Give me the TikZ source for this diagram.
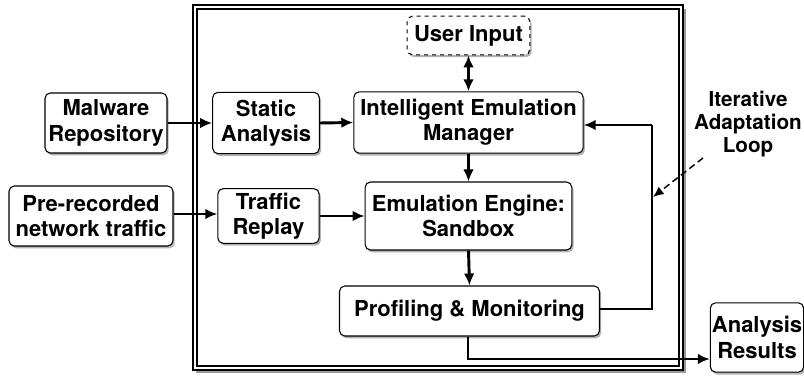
\documentclass[tikz,border=0pt]{standalone}
\usepackage{fontspec}
\setmainfont{TeX Gyre Heros}
\usetikzlibrary{arrows.meta,shadows}
\begin{document}
\begin{tikzpicture}[x=0.75pt,y=-0.75pt,
  box/.style={draw=black,line width=0.8pt,rounded corners=4pt,fill=white,
    align=center,inner sep=0pt,font=\fontsize{16.5}{19}\selectfont\bfseries,
    drop shadow={shadow xshift=1.3pt,shadow yshift=-1.8pt,fill=black!50,opacity=0.6}},
  conn/.style={line width=2.2pt,-{Latex[length=9pt,width=8pt]}},
  lbl/.style={align=center,font=\fontsize{15.5}{17}\selectfont\bfseries}
]
\useasboundingbox (0,0) rectangle (804,377);
% outer frame
\fill[black!40] (196,9) rectangle (686,373);
\draw[fill=white,line width=1.1pt] (193,5) rectangle (683,370);
\draw[line width=1.1pt] (197,9) rectangle (679,366);
% nodes
\node[box,dashed,minimum width=92pt,minimum height=29pt] (user) at (468.5,35.5) {User Input};
\node[box,minimum width=80pt,minimum height=46pt] (static) at (266,123) {Static\\Analysis};
\node[box,minimum width=172pt,minimum height=46pt] (iem) at (468.5,122.5) {Intelligent Emulation\\Manager};
\node[box,minimum width=91.5pt,minimum height=45pt] (malware) at (106,123) {Malware\\Repository};
\node[box,minimum width=123pt,minimum height=45pt] (prerec) at (91,216) {Pre-recorded\\network traffic};
\node[box,minimum width=76pt,minimum height=41pt] (replay) at (268.5,216) {Traffic\\Replay};
\node[box,minimum width=155pt,minimum height=51pt] (sandbox) at (468.5,216) {Emulation Engine:\\Sandbox};
\node[box,minimum width=195pt,minimum height=37.5pt] (prof) at (469.5,311) {Profiling \& Monitoring};
\node[box,minimum width=70pt,minimum height=52pt] (results) at (757,337.5) {Analysis\\Results};
\node[lbl] (loop) at (748,124) {Iterative\\Adaptation\\Loop};
% coordinates
\coordinate (loopR) at (652,309);
\coordinate (loopT) at (652,125);
\coordinate (down) at (468,359);
\coordinate (dashS) at (703,158);
\coordinate (dashE) at (653,197);
% connectors
\draw[conn] (malware.east) -- (static.west);
\draw[conn] (static.east) -- (iem.west);
\draw[conn] (prerec.east |- 0,214) -- (replay.west |- 0,214);
\draw[conn] (replay.east) -- (sandbox.west);
\draw[conn,{Latex[length=9pt,width=8pt]}-{Latex[length=9pt,width=8pt]}] (user.south) -- (iem.north);
\draw[conn] (iem.south) -- (sandbox.north);
\draw[conn] (sandbox.south) -- (prof.north);
\draw[conn,-] (prof.east |- loopR) -- (loopR) -- (loopT);
\draw[conn] (loopT) -- (iem.east |- loopT);
\draw[conn] (prof.south -| down) -- (down) -- (results.west |- down);
\draw[dash pattern=on 5pt off 3pt,line width=1.1pt,-{Latex[length=8pt,width=7pt]}] (dashS) -- (dashE);
\end{tikzpicture}
\end{document}
